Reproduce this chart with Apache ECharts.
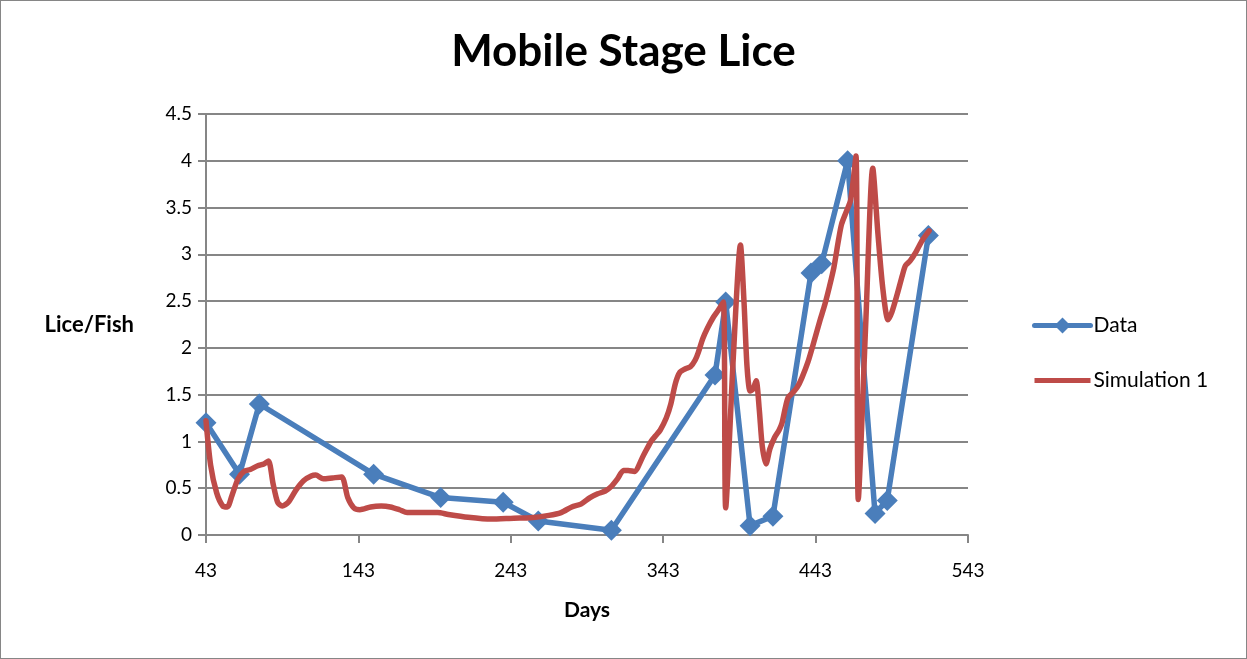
<!DOCTYPE html>
<html>
<head>
<meta charset="utf-8">
<script src="https://cdn.jsdelivr.net/npm/echarts@6/dist/echarts.min.js"></script>
<style>
  html, body { margin: 0; padding: 0; background: #fff; }
  #chart { position: absolute; left: 0; top: 0; width: 1245px; height: 657px; border: 1px solid #868686; }
</style>
</head>
<body>
<div id="chart"></div>
<script>
// ticks on the day axis
const xTicks = [43, 143, 243, 343, 443, 543]

// measured lice counts: [day, lice per fish]
const dataPoints = [
  [43, 1.2], [65, 0.65], [78, 1.4], [153, 0.65], [197, 0.4], [238, 0.35],
  [261, 0.15], [309, 0.05], [377, 1.71], [384, 2.49], [400, 0.1], [415, 0.2],
  [440, 2.8], [447, 2.9], [464, 4.0], [482, 0.23], [490, 0.37], [517, 3.2]
]

// simulation output: [day, lice per fish]
const simulation = [
  [43, 1.22], [46, 0.75], [50, 0.45], [54, 0.31], [57, 0.3], [60, 0.42],
  [64, 0.6], [68, 0.68], [72, 0.7], [77, 0.74], [81, 0.76], [84, 0.79],
  [87, 0.55], [90, 0.35], [93, 0.31], [97, 0.35], [102, 0.48], [107, 0.58],
  [112, 0.63], [115, 0.64], [120, 0.6], [126, 0.61], [132, 0.62], [136, 0.4],
  [140, 0.29], [144, 0.27], [151, 0.3], [158, 0.31], [164, 0.3], [170, 0.27],
  [175, 0.24], [185, 0.24], [195, 0.24], [202, 0.22], [215, 0.19], [230, 0.17],
  [245, 0.18], [256, 0.185], [268, 0.21], [276, 0.24], [283, 0.3], [289, 0.33],
  [295, 0.4], [300, 0.44], [305, 0.47], [309, 0.52], [313, 0.6], [317, 0.69],
  [320, 0.69], [324, 0.68], [330, 0.85], [335, 1.0], [338, 1.06], [341, 1.12],
  [345, 1.25], [348, 1.4], [351, 1.62], [354, 1.74], [358, 1.78], [361, 1.8],
  [364, 1.87], [366, 1.95], [369, 2.1], [372, 2.21], [376, 2.33], [379, 2.4],
  [382.5, 2.49], [384, 0.29], [389, 1.9], [393.7, 3.1], [396, 2.5], [398, 1.8],
  [400, 1.54], [402, 1.56], [404, 1.65], [406, 1.35], [408, 0.95], [410.5, 0.76],
  [413, 0.92], [416, 1.04], [419, 1.12], [421, 1.2], [423, 1.35], [425, 1.47],
  [428, 1.52], [431, 1.58], [434, 1.68], [438, 1.85], [442, 2.07], [446, 2.3],
  [449, 2.46], [452, 2.65], [455, 2.86], [458, 3.15], [460, 3.32], [463, 3.45],
  [466, 3.58], [469.5, 4.05], [471, 0.38], [476, 2.3], [480.5, 3.92], [484, 3.2],
  [487, 2.65], [490.5, 2.3], [493, 2.38], [496.5, 2.57], [500, 2.78], [502, 2.88],
  [505, 2.93], [509, 3.03], [513, 3.15], [517.5, 3.25]
]

const myChart = echarts.init(document.getElementById('chart'))

const font = 'Lato, "Open Sans", sans-serif'

// plain thick bar used as legend icon for the simulation line
const barIcon = 'path://M0,0 M0,7.5 L56,7.5 L56,12.5 L0,12.5 Z M56,20'

const options = {
  backgroundColor: '#FFF',
  animation: false,
  color: ['#4A7EBB', '#BE4B48'],
  title: {
    text: 'Mobile Stage Lice',
    left: 'center',
    top: 24,
    textStyle: { fontFamily: font, fontSize: 44, fontWeight: 'bold', color: '#000' }
  },
  legend: {
    orient: 'vertical',
    left: 1026,
    top: 309,
    itemWidth: 56,
    itemHeight: 20,
    itemGap: 34,
    lineStyle: { width: 5 },
    textStyle: { fontFamily: font, fontSize: 21, color: '#000', padding: [0, 0, 0, -2] },
    data: [
      { name: 'Data' },
      { name: 'Simulation 1', icon: barIcon }
    ]
  },
  grid: {
    left: 205,
    right: 278,
    top: 113,
    bottom: 123,
    containLabel: false
  },
  xAxis: {
    type: 'value',
    min: 43,
    max: 543,
    name: 'Days',
    nameLocation: 'middle',
    nameGap: 65,
    nameTextStyle: { fontFamily: font, fontSize: 21, fontWeight: 'bold', color: '#000' },
    axisLine: { onZero: false, lineStyle: { color: '#868686', width: 2 } },
    axisTick: { show: true, customValues: xTicks, length: 8, lineStyle: { color: '#868686', width: 2 } },
    axisLabel: { customValues: xTicks, margin: 26, fontFamily: font, fontSize: 19, color: '#000' },
    splitLine: { show: false }
  },
  yAxis: {
    type: 'value',
    min: 0,
    max: 4.5,
    interval: 0.5,
    name: 'Lice/Fish',
    nameLocation: 'middle',
    nameRotate: 0,
    nameGap: 72,
    nameTextStyle: { fontFamily: font, fontSize: 22, fontWeight: 'bold', color: '#000' },
    axisLine: { show: true, lineStyle: { color: '#868686', width: 2 } },
    axisTick: { show: true, length: 8, lineStyle: { color: '#868686', width: 2 } },
    axisLabel: { margin: 14, fontFamily: font, fontSize: 19, color: '#000' },
    splitLine: { show: true, lineStyle: { color: '#868686', width: 2 } }
  },
  series: [
    {
      name: 'Data',
      type: 'line',
      data: dataPoints,
      symbol: 'diamond',
      symbolSize: 21,
      lineStyle: { width: 5.5, cap: 'round', join: 'round' },
      z: 2
    },
    {
      name: 'Simulation 1',
      type: 'line',
      data: simulation,
      showSymbol: false,
      symbol: 'none',
      smooth: 0.25,
      lineStyle: { width: 5.5, cap: 'round', join: 'round' },
      z: 3
    }
  ]
}
myChart.setOption(options)
</script>
</body>
</html>
